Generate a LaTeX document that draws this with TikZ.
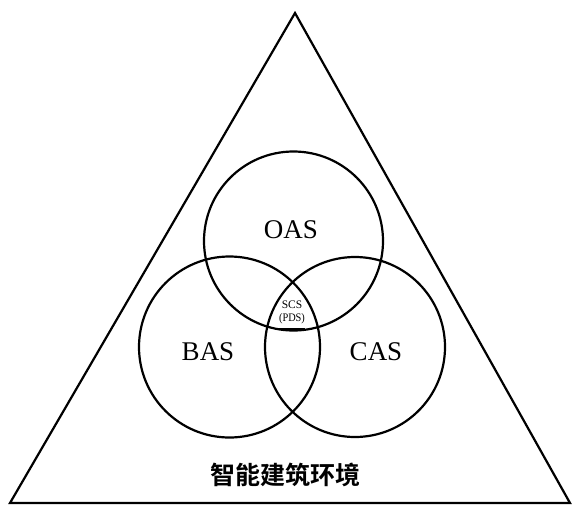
\documentclass[tikz,border=0pt]{standalone}
\usepackage{fontspec}
\setmainfont{Liberation Serif}
\newfontfamily\cjk{Noto Sans CJK SC}[BoldFont={Noto Sans CJK SC Bold}]
\begin{document}
\begin{tikzpicture}[x=1pt,y=-1pt,
  shape line/.style={line width=2.2pt,black},
  lbl/.style={font=\fontsize{27}{29}\selectfont,inner sep=0pt},
  small/.style={font=\fontsize{11.5}{11.5}\selectfont,inner sep=0pt}]
\useasboundingbox (0,0) rectangle (572,506);
\coordinate (A) at (295,13);
\coordinate (L) at (10,503);
\coordinate (R) at (570,503);
\draw[shape line,line join=miter] (A) -- (L) -- (R) -- cycle;
\node[shape line,draw,circle,minimum size=179pt,inner sep=0pt] (oas) at (293.5,241) {};
\node[shape line,draw,circle,minimum size=181pt,inner sep=0pt] (bas) at (229.5,347) {};
\node[shape line,draw,circle,minimum size=180pt,inner sep=0pt] (cas) at (355,347) {};
\node[lbl] (t1) at (291,230) {OAS};
\node[lbl] (t2) at (208,352) {BAS};
\node[lbl] (t3) at (376,352) {CAS};
\node[small] (s1) at (292,304.5) {SCS};
\node[small,xscale=0.9] (s2) at (292,318.5) {(PDS)};
\draw[line width=1.2pt] (277,329) -- (305,329);
\node[inner sep=0pt,font=\cjk\bfseries\fontsize{25}{27}\selectfont] (env) at (285,475) {智能建筑环境};
\end{tikzpicture}
\end{document}
